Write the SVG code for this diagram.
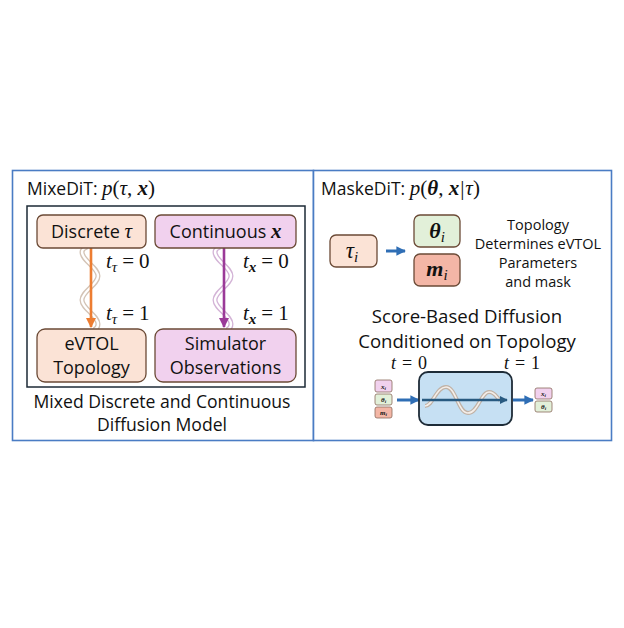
<svg xmlns="http://www.w3.org/2000/svg" width="624" height="628" viewBox="0 0 624 628">
<defs>
<style>
.sans{font-family:"Open Sans","Liberation Sans",sans-serif;fill:#111}
.math{font-family:"Liberation Serif","DejaVu Serif",serif;font-style:italic;fill:#111}
.bm{font-weight:bold}
.up{font-style:normal}
.panel{fill:#fff;stroke:#4a7cc4;stroke-width:1.6}
.box{stroke:#6b4a36;stroke-width:1.3}
.wave2{fill:none;stroke:#fff;stroke-width:2.4}
</style>
<marker id="ao" viewBox="0 0 10 10" refX="9" refY="5" markerWidth="4" markerHeight="4" orient="auto"><path d="M0,0 L10,5 L0,10 z" fill="#ed7d31"/></marker>
<marker id="ap" viewBox="0 0 10 10" refX="9" refY="5" markerWidth="4" markerHeight="4" orient="auto"><path d="M0,0 L10,5 L0,10 z" fill="#9b3a98"/></marker>
<marker id="ab" viewBox="0 0 10 10" refX="9" refY="5" markerWidth="3.2" markerHeight="3.2" orient="auto"><path d="M0,0 L10,5 L0,10 z" fill="#2f6eb5"/></marker>
<marker id="ad" viewBox="0 0 10 10" refX="9" refY="5" markerWidth="3.2" markerHeight="3.2" orient="auto"><path d="M0,0 L10,5 L0,10 z" fill="#285a80"/></marker>
</defs>
<rect width="624" height="628" fill="#fff"/>

<g id="panel-left">
<rect class="panel" x="12.5" y="170.5" width="301" height="270"/>
<text class="sans" x="27" y="195" font-size="17.5">MixeDiT: <tspan class="math" font-size="21">p</tspan><tspan class="math up" font-size="21">(</tspan><tspan class="math" font-size="21">τ</tspan><tspan class="math up" font-size="21">, </tspan><tspan class="math bm" font-size="21">x</tspan><tspan class="math up" font-size="21">)</tspan></text>
<rect x="27" y="206" width="278" height="181" fill="#fff" stroke="#1c2a36" stroke-width="1.5"/>
<text class="sans" x="162" y="408" font-size="17.6" text-anchor="middle">Mixed Discrete and Continuous</text>
<text class="sans" x="162" y="431" font-size="17.6" text-anchor="middle">Diffusion Model</text>
</g>

<g id="panel-right">
<rect class="panel" x="313.5" y="170.5" width="298" height="270"/>
<text class="sans" x="321" y="195" font-size="17.5">MaskeDiT: <tspan class="math" font-size="21">p</tspan><tspan class="math up" font-size="21">(</tspan><tspan class="math bm" font-size="21">θ</tspan><tspan class="math up" font-size="21">, </tspan><tspan class="math bm" font-size="21">x</tspan><tspan class="math up" font-size="21" dx="1">|</tspan><tspan class="math" font-size="21" dx="1">τ</tspan><tspan class="math up" font-size="21">)</tspan></text>
<text class="sans" x="538" y="230" font-size="14.5" text-anchor="middle">Topology</text>
<text class="sans" x="538" y="249" font-size="14.5" text-anchor="middle">Determines eVTOL</text>
<text class="sans" x="538" y="268" font-size="14.5" text-anchor="middle">Parameters</text>
<text class="sans" x="538" y="287" font-size="14.5" text-anchor="middle">and mask</text>
<text class="sans" x="467" y="323" font-size="18.6" text-anchor="middle">Score-Based Diffusion</text>
<text class="sans" x="467" y="348" font-size="18.6" text-anchor="middle">Conditioned on Topology</text>
<text class="math" x="409" y="369" font-size="18" text-anchor="middle">t<tspan class="up" dx="6">=</tspan><tspan class="up" dx="6">0</tspan></text>
<text class="math" x="522" y="369" font-size="18" text-anchor="middle">t<tspan class="up" dx="6">=</tspan><tspan class="up" dx="6">1</tspan></text>
</g>

<g id="connectors">
<path fill="none" stroke="#d3c3b5" stroke-width="5" d="M87,247 Q82,249 82,252 C82,260.6 98,267.4 98,276 C98,284.6 82,291.4 82,300 C82,308.6 98,315.4 98,324 C98,327 96,329 94,330"/>
<path class="wave2" d="M87,247 Q82,249 82,252 C82,260.6 98,267.4 98,276 C98,284.6 82,291.4 82,300 C82,308.6 98,315.4 98,324 C98,327 96,329 94,330"/>
<line x1="91" y1="248" x2="91" y2="327" stroke="#ed7d31" stroke-width="2.6" marker-end="url(#ao)"/>
<path fill="none" stroke="#d3b3d6" stroke-width="5" d="M220,247 Q215,249 215,252 C215,260.6 231,267.4 231,276 C231,284.6 215,291.4 215,300 C215,308.6 231,315.4 231,324 C231,327 229,329 227,330"/>
<path class="wave2" d="M220,247 Q215,249 215,252 C215,260.6 231,267.4 231,276 C231,284.6 215,291.4 215,300 C215,308.6 231,315.4 231,324 C231,327 229,329 227,330"/>
<line x1="224" y1="248" x2="224" y2="327" stroke="#9b3a98" stroke-width="2.6" marker-end="url(#ap)"/>
<line x1="386" y1="251" x2="405" y2="251" stroke="#2f6eb5" stroke-width="3" marker-end="url(#ab)"/>
<line x1="397" y1="400" x2="419" y2="400" stroke="#2f6eb5" stroke-width="3" marker-end="url(#ab)"/>
<line x1="513" y1="400" x2="533" y2="400" stroke="#2f6eb5" stroke-width="3" marker-end="url(#ab)"/>
</g>

<g id="t-labels">
<text class="math" x="106" y="268" font-size="21">t<tspan font-size="15" dy="4">τ</tspan><tspan class="up" dy="-4" dx="5">=</tspan><tspan class="up" dx="5">0</tspan></text>
<text class="math" x="106" y="320" font-size="21">t<tspan font-size="15" dy="4">τ</tspan><tspan class="up" dy="-4" dx="5">=</tspan><tspan class="up" dx="5">1</tspan></text>
<text class="math" x="243" y="268" font-size="21">t<tspan font-size="15" dy="4" class="bm">x</tspan><tspan class="up" dy="-4" dx="5">=</tspan><tspan class="up" dx="5">0</tspan></text>
<text class="math" x="243" y="320" font-size="21">t<tspan font-size="15" dy="4" class="bm">x</tspan><tspan class="up" dy="-4" dx="5">=</tspan><tspan class="up" dx="5">1</tspan></text>
</g>

<g id="node-discrete">
<rect class="box" x="37" y="215" width="109" height="33" rx="6" fill="#fbe3d6"/>
<text class="sans" x="91.5" y="238" font-size="18" text-anchor="middle">Discrete <tspan class="math" font-size="21">τ</tspan></text>
</g>
<g id="node-continuous">
<rect class="box" x="155" y="215" width="141" height="33" rx="6" fill="#f1d1ee"/>
<text class="sans" x="225.5" y="238" font-size="18" text-anchor="middle">Continuous <tspan class="math bm" font-size="21">x</tspan></text>
</g>
<g id="node-evtol">
<rect class="box" x="37" y="329" width="109" height="53" rx="8" fill="#fbe3d6"/>
<text class="sans" x="91.5" y="350" font-size="18" text-anchor="middle">eVTOL</text>
<text class="sans" x="91.5" y="374" font-size="18" text-anchor="middle">Topology</text>
</g>
<g id="node-simulator">
<rect class="box" x="155" y="329" width="141" height="53" rx="8" fill="#f1d1ee"/>
<text class="sans" x="225.5" y="350" font-size="18" text-anchor="middle">Simulator</text>
<text class="sans" x="225.5" y="374" font-size="18" text-anchor="middle">Observations</text>
</g>

<g id="node-tau-i">
<rect class="box" x="330" y="235" width="47" height="32" rx="6" fill="#fbe3d6"/>
<text class="math" x="352" y="258" font-size="23" text-anchor="middle">τ<tspan font-size="15" dy="4">i</tspan></text>
</g>
<g id="node-theta-i">
<rect class="box" x="414" y="215" width="46" height="32" rx="6" fill="#e2f0d9"/>
<text class="math bm" x="437" y="238" font-size="22" text-anchor="middle">θ<tspan font-size="15" dy="4" font-weight="normal">i</tspan></text>
</g>
<g id="node-m-i">
<rect class="box" x="414" y="254" width="46" height="32" rx="6" fill="#f3b6a6"/>
<text class="math bm" x="437" y="276" font-size="22" text-anchor="middle">m<tspan font-size="15" dy="4" font-weight="normal">i</tspan></text>
</g>

<g id="node-inputs">
<rect x="375" y="380" width="17" height="12" rx="2" fill="#f1d1ee" stroke="#8a6a5a" stroke-width="0.8"/>
<text class="math bm" x="383.5" y="389" font-size="7" text-anchor="middle">x<tspan font-size="5" dy="1">i</tspan></text>
<rect x="375" y="394" width="17" height="11" rx="2" fill="#e2f0d9" stroke="#8a6a5a" stroke-width="0.8"/>
<text class="math bm" x="383.5" y="402" font-size="7" text-anchor="middle">θ<tspan font-size="5" dy="1">i</tspan></text>
<rect x="375" y="407" width="17" height="11" rx="2" fill="#f3b6a6" stroke="#8a6a5a" stroke-width="0.8"/>
<text class="math bm" x="383.5" y="415" font-size="7" text-anchor="middle">m<tspan font-size="5" dy="1">i</tspan></text>
</g>

<g id="node-diffusion">
<rect x="419" y="372" width="93" height="53" rx="9" fill="#c6e0f3" stroke="#1e2c38" stroke-width="1.8"/>
<path d="M425,406 C433,406 436,387 446,387 C456,387 458,413 468,413 C478,413 481,392 489,392 C495,392 497,398 500,400" fill="none" stroke="#c0b2a6" stroke-width="4"/>
<path d="M425,406 C433,406 436,387 446,387 C456,387 458,413 468,413 C478,413 481,392 489,392 C495,392 497,398 500,400" fill="none" stroke="#f4eee9" stroke-width="1.6"/>
<line x1="422" y1="400" x2="507" y2="400" stroke="#285a80" stroke-width="2.6" marker-end="url(#ad)"/>
</g>

<g id="node-outputs">
<rect x="535" y="388" width="17" height="11" rx="2" fill="#f1d1ee" stroke="#8a6a5a" stroke-width="0.8"/>
<text class="math bm" x="543.5" y="396" font-size="7" text-anchor="middle">x<tspan font-size="5" dy="1">i</tspan></text>
<rect x="535" y="401" width="17" height="11" rx="2" fill="#e2f0d9" stroke="#8a6a5a" stroke-width="0.8"/>
<text class="math bm" x="543.5" y="409" font-size="7" text-anchor="middle">θ<tspan font-size="5" dy="1">i</tspan></text>
</g>
</svg>
